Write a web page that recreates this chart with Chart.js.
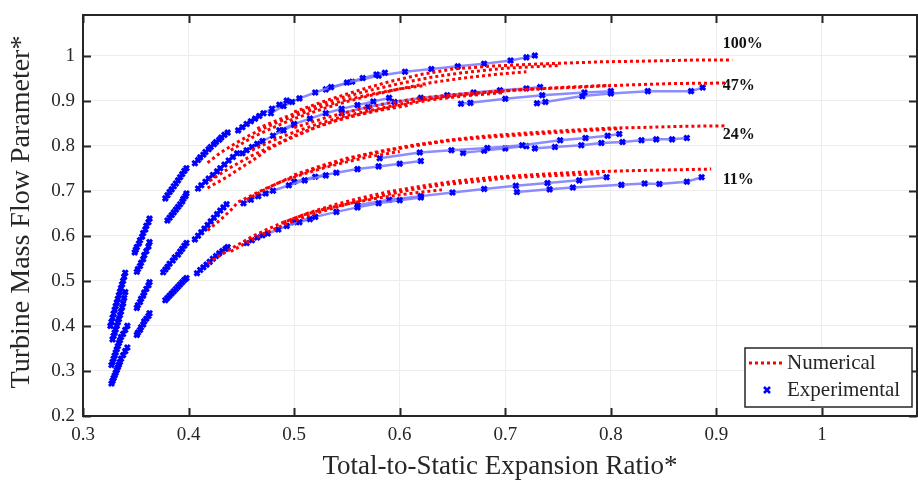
<!DOCTYPE html>
<html>
<head>
<meta charset="utf-8">
<script src="https://cdn.jsdelivr.net/npm/chart.js@4.4.1/dist/chart.umd.min.js"></script>
<style>
  body { margin: 0; background: #fff; overflow: hidden; }
  #wrap { width: 918px; height: 482px; overflow: hidden; }
</style>
</head>
<body>
<div id="wrap"><canvas id="flowChart" width="924" height="482"></canvas></div>
<script>
// axis ticks
const xTicks = [0.3, 0.4, 0.5, 0.6, 0.7, 0.8, 0.9, 1.0];
const yTicks = [0.2, 0.3, 0.4, 0.5, 0.6, 0.7, 0.8, 0.9, 1.0];

// opening labels (text, x, y)
const openingLabels = [
  ['100%', 0.906, 1.025],
  ['47%', 0.906, 0.932],
  ['24%', 0.906, 0.823],
  ['11%', 0.906, 0.725]
];

// experimental speed lines, one array of [ratio, flow] per speed
const exp100 = [
  [[0.326,0.400],[0.327,0.409],[0.328,0.418],[0.329,0.427],[0.330,0.436],[0.331,0.444],[0.332,0.452],[0.333,0.460],[0.334,0.468],[0.335,0.476],[0.336,0.484],[0.337,0.492],[0.338,0.500],[0.339,0.509],[0.340,0.518]],
  [[0.349,0.563],[0.350,0.569],[0.351,0.575],[0.353,0.583],[0.354,0.590],[0.356,0.598],[0.357,0.606],[0.359,0.614],[0.360,0.622],[0.362,0.630],[0.363,0.638]],
  [[0.378,0.683],[0.380,0.690],[0.382,0.697],[0.384,0.703],[0.386,0.710],[0.388,0.716],[0.390,0.723],[0.392,0.730],[0.394,0.737],[0.396,0.744],[0.398,0.750]],
  [[0.406,0.761],[0.409,0.768],[0.411,0.774],[0.414,0.780],[0.416,0.786],[0.419,0.792],[0.421,0.797],[0.424,0.803],[0.426,0.808],[0.429,0.813],[0.431,0.818],[0.434,0.824],[0.437,0.829]],
  [[0.447,0.834],[0.451,0.841],[0.455,0.848],[0.459,0.854],[0.463,0.860],[0.467,0.866],[0.471,0.872],[0.479,0.882],[0.486,0.891],[0.493,0.900]],
  [[0.478,0.872],[0.490,0.888],[0.498,0.897],[0.505,0.905],[0.520,0.918],[0.535,0.930],[0.550,0.940],[0.565,0.950],[0.578,0.958],[0.586,0.962]],
  [[0.530,0.925],[0.555,0.942],[0.580,0.955],[0.605,0.964],[0.630,0.970],[0.655,0.976],[0.680,0.982],[0.705,0.989],[0.720,0.996],[0.728,1.000]]
];
const exp47 = [
  [[0.328,0.370],[0.329,0.378],[0.330,0.385],[0.331,0.392],[0.332,0.400],[0.333,0.408],[0.334,0.415],[0.335,0.424],[0.336,0.432],[0.337,0.441],[0.338,0.450],[0.339,0.462],[0.340,0.475]],
  [[0.351,0.520],[0.352,0.526],[0.354,0.533],[0.355,0.540],[0.357,0.548],[0.358,0.557],[0.360,0.566],[0.362,0.576],[0.363,0.586]],
  [[0.380,0.634],[0.382,0.640],[0.384,0.646],[0.386,0.652],[0.388,0.658],[0.390,0.664],[0.392,0.670],[0.394,0.676],[0.395,0.682],[0.397,0.688],[0.398,0.694]],
  [[0.409,0.705],[0.412,0.712],[0.416,0.720],[0.419,0.727],[0.423,0.735],[0.427,0.743],[0.430,0.750],[0.434,0.758],[0.438,0.767],[0.442,0.775],[0.446,0.783]],
  [[0.451,0.783],[0.455,0.790],[0.460,0.797],[0.465,0.804],[0.470,0.810],[0.480,0.822],[0.490,0.834],[0.500,0.846]],
  [[0.486,0.834],[0.500,0.848],[0.515,0.860],[0.530,0.872],[0.545,0.882],[0.560,0.890],[0.575,0.898],[0.590,0.906]],
  [[0.545,0.872],[0.570,0.886],[0.595,0.897],[0.620,0.906],[0.645,0.912],[0.670,0.918],[0.695,0.923],[0.720,0.927],[0.733,0.930]],
  [[0.658,0.893],[0.667,0.895],[0.700,0.904],[0.735,0.912],[0.775,0.918],[0.800,0.921]],
  [[0.730,0.894],[0.738,0.897],[0.773,0.910],[0.800,0.916],[0.835,0.921],[0.876,0.921],[0.887,0.929]]
];
const exp24 = [
  [[0.327,0.313],[0.328,0.320],[0.329,0.327],[0.330,0.334],[0.331,0.341],[0.332,0.348],[0.333,0.355],[0.334,0.362],[0.335,0.368],[0.336,0.375],[0.338,0.382],[0.340,0.391],[0.342,0.400]],
  [[0.351,0.440],[0.352,0.446],[0.354,0.453],[0.355,0.460],[0.357,0.467],[0.358,0.474],[0.360,0.482],[0.362,0.490],[0.363,0.497]],
  [[0.376,0.519],[0.378,0.525],[0.380,0.531],[0.382,0.538],[0.385,0.545],[0.387,0.552],[0.390,0.558],[0.392,0.565],[0.394,0.571],[0.396,0.578],[0.398,0.584]],
  [[0.406,0.592],[0.409,0.600],[0.412,0.608],[0.415,0.616],[0.418,0.624],[0.421,0.632],[0.424,0.640],[0.427,0.648],[0.430,0.656],[0.433,0.663],[0.436,0.670]],
  [[0.452,0.672],[0.459,0.680],[0.466,0.688],[0.473,0.694],[0.480,0.700],[0.495,0.712],[0.510,0.723],[0.530,0.734]],
  [[0.500,0.720],[0.520,0.731],[0.540,0.740],[0.560,0.748],[0.580,0.754],[0.600,0.760],[0.620,0.766]],
  [[0.581,0.772],[0.619,0.785],[0.649,0.790],[0.683,0.795],[0.716,0.801],[0.752,0.812],[0.776,0.817],[0.797,0.822],[0.808,0.826]],
  [[0.660,0.784],[0.680,0.789],[0.700,0.794],[0.720,0.799]],
  [[0.728,0.794],[0.747,0.797],[0.772,0.801],[0.791,0.806],[0.811,0.808],[0.829,0.812],[0.843,0.814],[0.858,0.814],[0.872,0.817]]
];
const exp11 = [
  [[0.327,0.272],[0.328,0.278],[0.329,0.284],[0.330,0.290],[0.331,0.296],[0.332,0.302],[0.333,0.308],[0.334,0.314],[0.335,0.320],[0.336,0.327],[0.338,0.335],[0.340,0.344],[0.342,0.352]],
  [[0.351,0.380],[0.352,0.385],[0.354,0.391],[0.355,0.397],[0.357,0.403],[0.358,0.410],[0.360,0.416],[0.362,0.422],[0.363,0.428]],
  [[0.378,0.457],[0.380,0.462],[0.382,0.467],[0.384,0.472],[0.386,0.477],[0.388,0.482],[0.390,0.487],[0.392,0.492],[0.394,0.497],[0.396,0.502],[0.398,0.506]],
  [[0.408,0.517],[0.411,0.524],[0.414,0.530],[0.417,0.536],[0.420,0.542],[0.423,0.549],[0.426,0.555],[0.429,0.561],[0.432,0.566],[0.435,0.571],[0.437,0.575]],
  [[0.455,0.584],[0.460,0.590],[0.465,0.596],[0.470,0.601],[0.475,0.605],[0.485,0.614],[0.493,0.622],[0.505,0.630],[0.515,0.637]],
  [[0.500,0.630],[0.520,0.642],[0.540,0.653],[0.560,0.663],[0.580,0.672],[0.600,0.679],[0.620,0.685]],
  [[0.560,0.668],[0.590,0.680],[0.620,0.688],[0.650,0.696],[0.680,0.704],[0.710,0.711],[0.740,0.717],[0.770,0.723],[0.796,0.730]],
  [[0.711,0.697],[0.742,0.703],[0.764,0.707],[0.810,0.713],[0.832,0.716],[0.846,0.715],[0.872,0.720],[0.886,0.730]]
];

// numerical speed lines
const num100 = [
  [[0.418,0.762],[0.430,0.784],[0.445,0.806],[0.460,0.826],[0.480,0.848],[0.500,0.866],[0.525,0.886],[0.550,0.902],[0.575,0.915],[0.600,0.926],[0.625,0.934]],
  [[0.440,0.790],[0.460,0.818],[0.480,0.840],[0.500,0.860],[0.525,0.880],[0.550,0.898],[0.575,0.913],[0.600,0.926],[0.630,0.940],[0.660,0.950],[0.690,0.958],[0.720,0.964]],
  [[0.465,0.838],[0.490,0.862],[0.515,0.884],[0.540,0.903],[0.570,0.922],[0.600,0.938],[0.630,0.952],[0.660,0.962],[0.700,0.972],[0.750,0.978]],
  [[0.500,0.875],[0.530,0.900],[0.560,0.922],[0.590,0.942],[0.620,0.958],[0.650,0.970],[0.690,0.977],[0.740,0.982],[0.790,0.986],[0.840,0.988],[0.880,0.990],[0.915,0.990]]
];
const num47 = [
  [[0.418,0.706],[0.436,0.730],[0.449,0.750],[0.461,0.768],[0.474,0.790],[0.486,0.805],[0.500,0.820],[0.520,0.840],[0.540,0.856],[0.560,0.868],[0.580,0.878],[0.610,0.890]],
  [[0.420,0.722],[0.440,0.752],[0.460,0.778],[0.480,0.800],[0.500,0.822],[0.525,0.845],[0.550,0.863],[0.575,0.877],[0.600,0.890],[0.630,0.902],[0.660,0.910],[0.700,0.918]],
  [[0.460,0.790],[0.480,0.812],[0.500,0.830],[0.525,0.850],[0.550,0.867],[0.580,0.882],[0.610,0.897],[0.645,0.910],[0.680,0.918],[0.720,0.925],[0.760,0.930],[0.800,0.934]],
  [[0.500,0.840],[0.530,0.862],[0.560,0.880],[0.590,0.895],[0.620,0.906],[0.660,0.915],[0.700,0.922],[0.740,0.927],[0.780,0.931],[0.820,0.935],[0.860,0.938],[0.909,0.939]]
];
const num24 = [
  [[0.418,0.612],[0.430,0.635],[0.440,0.657],[0.447,0.675],[0.460,0.690],[0.475,0.707],[0.490,0.722],[0.510,0.738],[0.530,0.752],[0.550,0.764],[0.570,0.775],[0.600,0.787]],
  [[0.455,0.680],[0.474,0.705],[0.493,0.726],[0.515,0.745],[0.540,0.762],[0.565,0.778],[0.590,0.790],[0.620,0.802],[0.650,0.812],[0.680,0.818],[0.710,0.823],[0.740,0.828],[0.780,0.834],[0.810,0.838]],
  [[0.500,0.735],[0.525,0.755],[0.550,0.772],[0.580,0.787],[0.610,0.800],[0.645,0.812],[0.680,0.821],[0.720,0.828],[0.760,0.834],[0.800,0.839],[0.840,0.841],[0.870,0.843],[0.910,0.844]]
];
const num11 = [
  [[0.418,0.539],[0.430,0.557],[0.446,0.579],[0.460,0.598],[0.475,0.615],[0.490,0.630],[0.510,0.647],[0.530,0.660],[0.555,0.673],[0.580,0.684],[0.610,0.694],[0.640,0.702]],
  [[0.440,0.565],[0.455,0.585],[0.470,0.603],[0.490,0.624],[0.510,0.642],[0.535,0.660],[0.560,0.677],[0.585,0.690],[0.610,0.702],[0.640,0.713],[0.670,0.720],[0.700,0.728],[0.730,0.732],[0.760,0.735],[0.790,0.738]],
  [[0.490,0.630],[0.515,0.652],[0.540,0.670],[0.565,0.685],[0.590,0.698],[0.620,0.710],[0.655,0.722],[0.690,0.730],[0.730,0.736],[0.770,0.741],[0.810,0.744],[0.850,0.746],[0.895,0.748]]
];

const SERIF = '"Liberation Serif", "DejaVu Serif", serif';
const AXIS_COLOR = '#262626';

function toPoints(line) {
  return line.map(([x, y]) => ({ x: x, y: y }));
}

const datasets = [];
[num100, num47, num24, num11].forEach(group => {
  group.forEach(line => {
    datasets.push({
      data: toPoints(line),
      showLine: true,
      borderColor: '#ff0000',
      borderWidth: 3,
      borderDash: [3, 3],
      pointRadius: 0,
      order: 0
    });
  });
});
[exp100, exp47, exp24, exp11].forEach(group => {
  group.forEach(line => {
    datasets.push({
      data: toPoints(line),
      showLine: true,
      borderColor: 'rgba(120,120,255,0.85)',
      borderWidth: 2.5,
      pointStyle: 'crossRot',
      pointRadius: 3.5,
      pointBorderColor: '#0000ff',
      pointBorderWidth: 3,
      order: 1
    });
  });
});

// frame with inward ticks, labels, legend and axis titles
const decorPlugin = {
  id: 'decor',
  afterDraw(chart) {
    const { ctx, chartArea: a, scales } = chart;
    const xs = scales.x, ys = scales.y;
    ctx.save();

    ctx.strokeStyle = AXIS_COLOR;
    ctx.lineWidth = 2;
    ctx.strokeRect(a.left, a.top, a.right - a.left, a.bottom - a.top);
    ctx.beginPath();
    xTicks.forEach(v => {
      const px = Math.round(xs.getPixelForValue(v)) + 0.5;
      ctx.moveTo(px, a.bottom); ctx.lineTo(px, a.bottom - 8);
      ctx.moveTo(px, a.top); ctx.lineTo(px, a.top + 8);
    });
    yTicks.forEach(v => {
      const py = Math.round(ys.getPixelForValue(v)) + 0.5;
      ctx.moveTo(a.left, py); ctx.lineTo(a.left + 8, py);
      ctx.moveTo(a.right, py); ctx.lineTo(a.right - 8, py);
    });
    ctx.stroke();

    // opening labels
    ctx.fillStyle = '#111';
    ctx.font = 'bold 16px ' + SERIF;
    ctx.textBaseline = 'middle';
    ctx.textAlign = 'left';
    openingLabels.forEach(([t, x, y]) => {
      ctx.fillText(t, xs.getPixelForValue(x), ys.getPixelForValue(y));
    });

    // axis titles
    ctx.fillStyle = '#262626';
    ctx.font = '27px ' + SERIF;
    ctx.textAlign = 'center';
    ctx.fillText('Total-to-Static Expansion Ratio*', 500, 467);
    ctx.save();
    ctx.font = '28px ' + SERIF;
    ctx.translate(22, 212);
    ctx.rotate(-Math.PI / 2);
    ctx.fillText('Turbine Mass Flow Parameter*', 0, 0);
    ctx.restore();

    // legend
    const lx = 745, ly = 348, lw = 167, lh = 59;
    ctx.fillStyle = '#fff';
    ctx.fillRect(lx, ly, lw, lh);
    ctx.strokeStyle = AXIS_COLOR;
    ctx.lineWidth = 1.5;
    ctx.strokeRect(lx, ly, lw, lh);
    ctx.strokeStyle = '#ff0000';
    ctx.lineWidth = 3;
    ctx.setLineDash([3, 3]);
    ctx.beginPath();
    ctx.moveTo(749, 363); ctx.lineTo(782, 363);
    ctx.stroke();
    ctx.setLineDash([]);
    ctx.strokeStyle = '#0000ff';
    ctx.lineWidth = 2.5;
    ctx.beginPath();
    ctx.moveTo(764, 387); ctx.lineTo(770, 393);
    ctx.moveTo(770, 387); ctx.lineTo(764, 393);
    ctx.stroke();
    ctx.fillStyle = '#262626';
    ctx.font = '21px ' + SERIF;
    ctx.textAlign = 'left';
    ctx.fillText('Numerical', 787, 363);
    ctx.fillText('Experimental', 787, 390);
    ctx.restore();
  }
};

new Chart(document.getElementById('flowChart'), {
  type: 'scatter',
  data: { datasets: datasets },
  options: {
    responsive: false,
    animation: false,
    events: [],
    layout: { padding: { top: 15, right: 0, left: 0, bottom: 0 } },
    plugins: { legend: { display: false }, tooltip: { enabled: false } },
    scales: {
      x: {
        type: 'linear', min: 0.3, max: 1.09,
        afterBuildTicks: s => { s.ticks = xTicks.map(v => ({ value: v })); },
        afterFit: s => { s.height = 66; },
        grid: { color: '#ececec', lineWidth: 1, drawTicks: false },
        border: { display: false },
        ticks: {
          padding: 8, color: '#262626',
          font: { family: SERIF, size: 19 },
          callback: v => (v === 1 ? '1' : v.toFixed(1))
        }
      },
      y: {
        type: 'linear', min: 0.2, max: 1.09,
        afterBuildTicks: s => { s.ticks = yTicks.map(v => ({ value: v })); },
        afterFit: s => { s.width = 83; s.paddingTop = 0; s.paddingBottom = 0; },
        grid: { color: '#ececec', lineWidth: 1, drawTicks: false },
        border: { display: false },
        ticks: {
          padding: 8, color: '#262626',
          font: { family: SERIF, size: 19 },
          callback: v => (v === 1 ? '1' : v.toFixed(1))
        }
      }
    }
  },
  plugins: [decorPlugin]
});
</script>
</body>
</html>
